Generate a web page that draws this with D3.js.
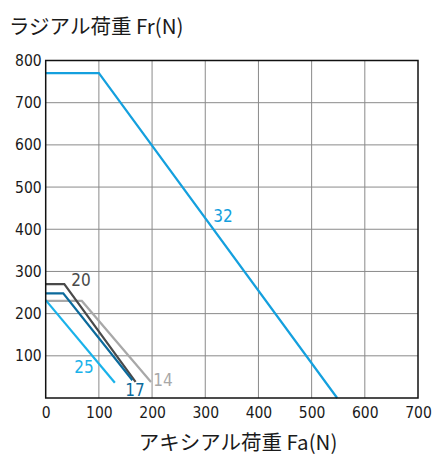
<!DOCTYPE html>
<html><head><meta charset="utf-8">
<script src="https://cdn.jsdelivr.net/npm/d3@7"></script>
<style>body{margin:0;background:#fff}</style>
</head><body>
<svg id="c" width="434" height="456"></svg>
<script>
const xTicks = [0,100,200,300,400,500,600,700];
const yTicks = [100,200,300,400,500,600,700,800];
const seriesNames = ["14","17","20","25","32"];
const seriesFa = {
  "14": [0,68,198],
  "17": [0,33,163],
  "20": [0,35,169],
  "25": [0,130],
  "32": [0,100,548]
};
const seriesFr = {
  "14": [230,230,38],
  "17": [248,248,42],
  "20": [270,270,38],
  "25": [232,36],
  "32": [770,770,0]
};
const colors = {"14":"#a8a8a8","17":"#0b6a9c","20":"#4a4a4a","25":"#19b2ea","32":"#14a0de"};
const labelPos = {"14":[163,381],"17":[135,391],"20":[81,281],"25":[84,368],"32":[223,217]};

const svg = d3.select("#c");
const L=45.7,R=418,T=60.5,B=398;
const x = d3.scaleLinear().domain([0,700]).range([L,R]);
const y = d3.scaleLinear().domain([0,800]).range([B,T]);
const numFont = "'DejaVu Sans Condensed','Roboto Condensed',sans-serif";

// grid
svg.append("g").selectAll("line").data(xTicks.slice(1,-1)).join("line")
  .attr("x1",d=>x(d)).attr("x2",d=>x(d)).attr("y1",T).attr("y2",B)
  .attr("stroke","#8a8a8a").attr("stroke-width",1);
svg.append("g").selectAll("line").data(yTicks.slice(0,-1)).join("line")
  .attr("x1",L).attr("x2",R).attr("y1",d=>y(d)).attr("y2",d=>y(d))
  .attr("stroke","#8a8a8a").attr("stroke-width",1);

// series
const line = d3.line().x(d=>x(d[0])).y(d=>y(d[1]));
const order = ["32","14","20","17","25"];
order.forEach(n=>{
  const pts = seriesFa[n].map((v,i)=>[v,seriesFr[n][i]]);
  svg.append("path").attr("d",line(pts)).attr("fill","none")
    .attr("stroke",colors[n]).attr("stroke-width",2.2);
});

// frame
svg.append("rect").attr("x",L).attr("y",T).attr("width",R-L).attr("height",B-T)
  .attr("fill","none").attr("stroke","#111").attr("stroke-width",1.5);

// axes labels
const xa = d3.axisBottom(x).tickValues(xTicks).tickSize(0).tickPadding(9);
const gx = svg.append("g").attr("transform",`translate(0,${B})`).call(xa);
gx.select(".domain").remove();
gx.selectAll("text").attr("font-family",numFont).attr("font-size",15.5).attr("fill","#1a1a1a");
const ya = d3.axisLeft(y).tickValues(yTicks).tickSize(0).tickPadding(4);
const gy = svg.append("g").attr("transform",`translate(${L},0)`).call(ya);
gy.select(".domain").remove();
gy.selectAll("text").attr("font-family",numFont).attr("font-size",15.5).attr("fill","#1a1a1a");

// series labels
seriesNames.forEach(n=>{
  svg.append("text").attr("x",labelPos[n][0]).attr("y",labelPos[n][1])
    .attr("text-anchor","middle").attr("dominant-baseline","middle")
    .attr("font-family",numFont).attr("font-size",17)
    .attr("fill",colors[n]).text(n);
});

// titles
svg.append("text").attr("x",9).attr("y",34).attr("font-family","'Noto Sans CJK JP',sans-serif")
  .attr("font-size",20.5).attr("fill","#1a1a1a").text("ラジアル荷重 Fr(N)");
svg.append("text").attr("x",238).attr("y",450).attr("text-anchor","middle")
  .attr("font-family","'Noto Sans CJK JP',sans-serif")
  .attr("font-size",20.5).attr("fill","#1a1a1a").text("アキシアル荷重 Fa(N)");
</script>
</body></html>
